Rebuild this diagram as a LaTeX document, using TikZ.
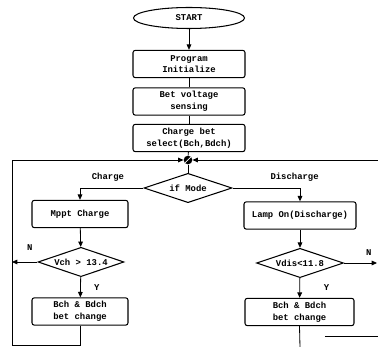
\documentclass[tikz,border=0pt]{standalone}
\usepackage{fontspec}
\usepackage{tikz}
\usetikzlibrary{arrows.meta,positioning,shapes.geometric}
\newfontfamily\flowfont{Liberation Mono}

\begin{document}
\begin{tikzpicture}[x=0.03cm, y=-0.03cm,
  box/.style={draw, rounded corners=2pt, line width=0.9pt, align=center,
              minimum width=#1, minimum height=0.82cm, inner sep=1pt,
              font=\flowfont\bfseries\fontsize{7.6}{10}\selectfont},
  box/.default=3.36cm,
  dec/.style={draw, diamond, shape aspect=3, line width=0.9pt, inner sep=0pt,
              minimum width=#1, minimum height=0.88cm,
              font=\flowfont\bfseries\fontsize{7.6}{10}\selectfont},
  lbl/.style={font=\flowfont\bfseries\fontsize{7.6}{10}\selectfont},
  arr/.style={-{Triangle[length=1.6mm,width=1.4mm]}, line width=0.7pt},
  ln/.style={line width=0.7pt}]
  \useasboundingbox (0,0) rectangle (378,347);
  % main column
  \node[draw, ellipse, line width=0.9pt, minimum width=3.33cm, minimum height=0.63cm,
        font=\flowfont\bfseries\fontsize{7.6}{10}\selectfont] (start) at (189,18) {START};
  \node[box] (init) at (189,64) {Program\\Initialize};
  \node[box] (sense) at (189,101.5) {Bet voltage\\sensing};
  \node[box] (select) at (189,138) {Charge bet\\select(Bch,Bdch)};
  \node[circle, fill=black, inner sep=0pt, minimum size=0.26cm,
        path picture={\draw[white, line width=0.6pt]
          (path picture bounding box.south west) -- (path picture bounding box.north east);}]
        (junc) at (188,160) {};
  \node[dec=2.64cm] (mode) at (188,188) {if Mode};
  % charge branch
  \node[box=2.88cm] (mppt) at (80,214) {Mppt Charge};
  \node[dec=2.58cm] (vch) at (81,262) {Vch > 13.4};
  \node[box=2.88cm] (bchL) at (80,311.5) {Bch \& Bdch\\bet change};
  % discharge branch
  \node[box] (lamp) at (300,215.5) {Lamp On(Discharge)};
  \node[dec=2.61cm] (vdis) at (300,263) {Vdis<11.8};
  \node[box=3.27cm] (bchR) at (299.5,312) {Bch \& Bdch\\bet change};
  % loose ends
  \coordinate (lb) at (12,345);
  \coordinate (rt) at (378,160);
  \coordinate (rn) at (377,263);
  \coordinate (rb) at (300,347);
  \coordinate (fa) at (325,336);
  \coordinate (fb) at (378,336);
  % connectors
  \draw[arr] (start) -- (init);
  \draw[ln] (init) -- (sense);
  \draw[ln] (sense) -- (select);
  \draw[ln] (select) -- (junc);
  \draw[ln] (junc) -- (mode);
  \draw[arr] (bchL.south) |- (lb) |- (junc.west);
  \draw[arr] (rt) -- (junc.east);
  \draw[arr] (mode.west) -| node[lbl, pos=0.28, above=2pt] {Charge} (mppt.north);
  \draw[arr] (mode.east) -| node[lbl, pos=0.46, above=2pt] {Discharge} (lamp.north);
  \draw[arr] (mppt) -- (vch);
  \draw[arr] (vch) -- node[lbl, right=8pt] {Y} (bchL);
  \draw[arr] (vch.west) -- node[lbl, above=6pt, pos=0.3] {N} (vch.west -| lb);
  \draw[arr] (lamp) -- (vdis);
  \draw[arr] (vdis) -- node[lbl, right=17pt] {Y} (bchR);
  \draw[arr] (vdis.east) -- node[lbl, above=3pt, pos=0.75] {N} (rn);
  \draw[ln] (bchR.south) -- (rb);
  \draw[ln] (fa) -- (fb);
\end{tikzpicture}
\end{document}
